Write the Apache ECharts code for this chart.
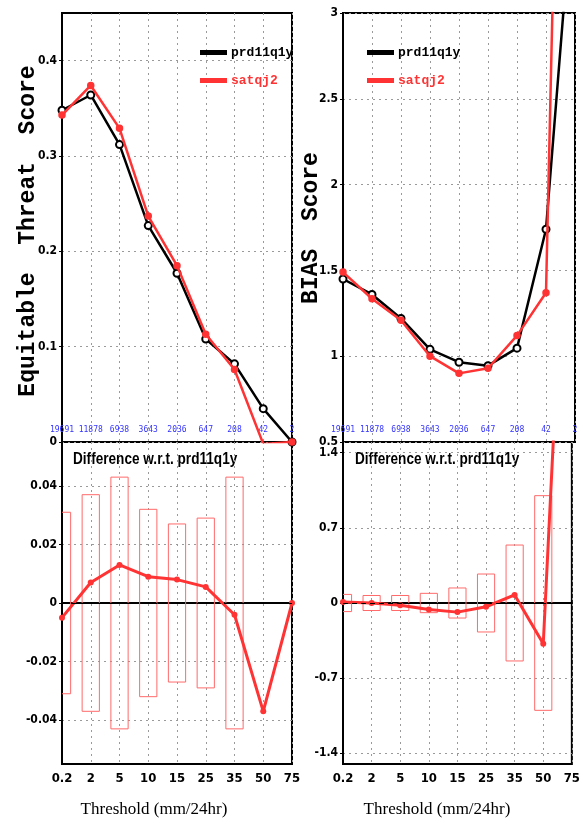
<!DOCTYPE html>
<html>
<head>
<meta charset="utf-8">
<script src="https://cdn.jsdelivr.net/npm/echarts@6/dist/echarts.min.js"></script>
<style>html,body{margin:0;padding:0;background:#fff}#c{width:583px;height:824px}</style>
</head>
<body>
<div id="c"></div>
<script>
var thresholds = ['0.2','2','5','10','15','25','35','50','75'];
var counts = ['19691','11878','6938','3643','2036','647','208','42','2'];
var etsPrd = [0.348, 0.364, 0.312, 0.227, 0.177, 0.108, 0.082, 0.035, 0.0];
var etsSat = [0.343, 0.374, 0.329, 0.237, 0.185, 0.113, 0.076, -0.002, 0.0];
var etsDiff = [-0.005, 0.007, 0.013, 0.009, 0.008, 0.0055, -0.004, -0.037, 0.0];
var etsCI = [0.031, 0.037, 0.043, 0.032, 0.027, 0.029, 0.043, null, null];
var biasPrd = [1.45, 1.36, 1.22, 1.04, 0.965, 0.945, 1.047, 1.74, 3.85];
var biasSat = [1.49, 1.335, 1.21, 1.0, 0.9, 0.93, 1.12, 1.37, 8.8];
var biasDiff = [0.01, 0.0, -0.02, -0.06, -0.085, -0.035, 0.075, -0.38, 5.0];
var biasCI = [0.08, 0.07, 0.07, 0.09, 0.14, 0.27, 0.54, 1.0, null];
var etsTicks = [0, 0.1, 0.2, 0.3, 0.4];
var etsDiffTicks = [-0.04, -0.02, 0, 0.02, 0.04];
var biasDiffTicks = [-1.4, -0.7, 0, 0.7, 1.4];

var RED = '#ff3333';
var BOX = '#ff6a6a';
var labelFont = "'DejaVu Sans Condensed', 'Liberation Sans', sans-serif";
var grid = function (l, t, w, h) {
  return {left: l, top: t, width: w, height: h, show: true, borderColor: '#000', borderWidth: 2, backgroundColor: 'transparent'};
};
var split = {show: true, lineStyle: {color: '#9a9a9a', type: [2, 4], width: 1}};

function topX(gi) {
  return {type: 'category', gridIndex: gi, data: counts, boundaryGap: false,
    axisLine: {show: false}, axisTick: {show: false}, splitLine: split,
    axisLabel: {inside: true, interval: 0, margin: 8, color: '#3333ff', fontSize: 8, fontFamily: "'DejaVu Sans Mono', monospace"}};
}
function botX(gi) {
  return {type: 'category', gridIndex: gi, data: thresholds, boundaryGap: false,
    axisLine: {show: true, lineStyle: {color: '#000', width: 2}}, axisTick: {show: false}, splitLine: split,
    axisLabel: {interval: 0, margin: 8, color: '#000', fontSize: 13, fontWeight: 'bold', fontFamily: labelFont}};
}
function yAx(gi, o) {
  var base = {type: 'value', gridIndex: gi, scale: true,
    axisLine: {show: true, lineStyle: {color: '#000', width: 2}},
    axisTick: {show: true, length: 3, lineStyle: {color: '#000'}},
    splitLine: split,
    axisLabel: {color: '#000', fontSize: 12, fontWeight: 'bold', fontFamily: labelFont, margin: 5}};
  for (var k in o) {
    if (k === 'axisLabel' || k === 'axisTick') { base[k] = Object.assign({}, base[k], o[k]); }
    else base[k] = o[k];
  }
  return base;
}
function boxes(xi, yi, arr) {
  var d = [];
  arr.forEach(function (v, i) { if (v != null) d.push([i, v]); });
  return {type: 'custom', xAxisIndex: xi, yAxisIndex: yi, clip: true, z: 2, data: d,
    renderItem: function (params, api) {
      var i = api.value(0), h = api.value(1);
      var p1 = api.coord([i, h]), p2 = api.coord([i, -h]);
      var w = api.size([1, 0])[0] * 0.6;
      return {type: 'rect', shape: {x: p1[0] - w / 2, y: p1[1], width: w, height: p2[1] - p1[1]},
        style: {fill: 'none', stroke: BOX, lineWidth: 1}};
    }};
}
function mainLine(name, xi, yi, data, color, sym, size) {
  return {type: 'line', name: name, xAxisIndex: xi, yAxisIndex: yi, data: data, clip: true,
    symbol: sym, symbolSize: size, showSymbol: true, z: color === RED ? 4 : 3,
    lineStyle: {color: color, width: 2.5}, itemStyle: {color: color, borderColor: color, borderWidth: 1.5}};
}
function diffLine(xi, yi, data) {
  return {type: 'line', name: 'diff', xAxisIndex: xi, yAxisIndex: yi, data: data, clip: true,
    symbol: 'circle', symbolSize: 6, z: 4,
    lineStyle: {color: RED, width: 3}, itemStyle: {color: RED},
    markLine: {silent: true, symbol: 'none', label: {show: false},
      lineStyle: {color: '#000', type: [5, 4], width: 1.2}, data: [{yAxis: 0}]}};
}
function legend(left) {
  return {left: left, top: 46, padding: 0, orient: 'vertical', icon: 'rect', itemWidth: 25, itemHeight: 3, itemGap: 15,
    selectedMode: false,
    textStyle: {fontFamily: "'Liberation Mono', monospace", fontWeight: 'bold', fontSize: 13},
    data: [{name: 'prd11q1y', textStyle: {color: '#000'}, itemStyle: {color: '#000'}},
           {name: 'satqj2', textStyle: {color: RED}, itemStyle: {color: RED}}]};
}

var option = {
  animation: false,
  backgroundColor: '#fff',
  grid: [grid(62, 13, 230, 429), grid(62, 442, 230, 322), grid(343, 13, 232, 429), grid(343, 442, 232, 322)],
  xAxis: [topX(0), botX(1), topX(2), botX(3)],
  yAxis: [
    yAx(0, {min: 0, max: 0.45, axisLabel: {customValues: etsTicks}, axisTick: {customValues: etsTicks}}),
    yAx(1, {min: -0.055, max: 0.055, axisLabel: {customValues: etsDiffTicks}, axisTick: {customValues: etsDiffTicks}}),
    yAx(2, {min: 0.5, max: 3, interval: 0.5}),
    yAx(3, {min: -1.5, max: 1.5, axisLabel: {customValues: biasDiffTicks}, axisTick: {customValues: biasDiffTicks}})
  ],
  legend: [legend(200), legend(367)],
  series: [
    mainLine('prd11q1y', 0, 0, etsPrd, '#000', 'emptyCircle', 7),
    mainLine('satqj2', 0, 0, etsSat, RED, 'circle', 6),
    boxes(1, 1, etsCI),
    diffLine(1, 1, etsDiff),
    mainLine('prd11q1y', 2, 2, biasPrd, '#000', 'emptyCircle', 7),
    mainLine('satqj2', 2, 2, biasSat, RED, 'circle', 6),
    boxes(3, 3, biasCI),
    diffLine(3, 3, biasDiff)
  ],
  graphic: [
    {type: 'text', x: 28, y: 231, rotation: Math.PI / 2,
      style: {text: 'Equitable  Threat  Score', font: "bold 23px 'Liberation Mono'", textAlign: 'center', textVerticalAlign: 'middle', fill: '#000'}},
    {type: 'text', x: 311, y: 228, rotation: Math.PI / 2,
      style: {text: 'BIAS  Score', font: "bold 23px 'Liberation Mono'", textAlign: 'center', textVerticalAlign: 'middle', fill: '#000'}},
    {type: 'text', x: 73, y: 459, scaleX: 0.8,
      style: {text: 'Difference w.r.t. prd11q1y', font: "bold 17px 'Liberation Sans'", textAlign: 'left', textVerticalAlign: 'middle', fill: '#000'}},
    {type: 'text', x: 355, y: 459, scaleX: 0.8,
      style: {text: 'Difference w.r.t. prd11q1y', font: "bold 17px 'Liberation Sans'", textAlign: 'left', textVerticalAlign: 'middle', fill: '#000'}},
    {type: 'text', x: 154, y: 810,
      style: {text: 'Threshold (mm/24hr)', font: "17px 'Liberation Serif'", textAlign: 'center', textVerticalAlign: 'middle', fill: '#000'}},
    {type: 'text', x: 437, y: 810,
      style: {text: 'Threshold (mm/24hr)', font: "17px 'Liberation Serif'", textAlign: 'center', textVerticalAlign: 'middle', fill: '#000'}}
  ]
};
var chart = echarts.init(document.getElementById('c'), null, {renderer: 'canvas'});
chart.setOption(option);
</script>
</body>
</html>
